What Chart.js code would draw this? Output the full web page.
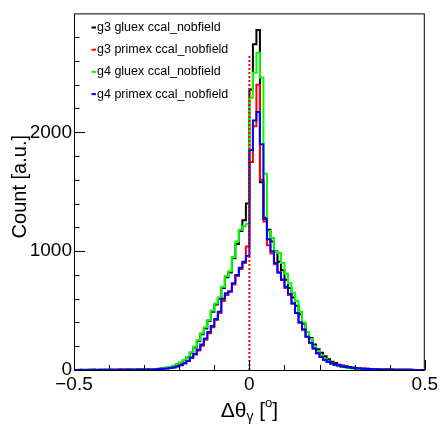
<!DOCTYPE html>
<html>
<head>
<meta charset="utf-8">
<script src="https://cdn.jsdelivr.net/npm/chart.js@4/dist/chart.umd.min.js"></script>
<style>
  html, body { margin: 0; padding: 0; background: #fff; }
  canvas { display: block; }
</style>
</head>
<body>
<canvas id="c" width="441" height="424"></canvas>
<script>
// histogram binning: 100 bins from -0.5 to 0.5
const binStart = -0.5;
const binWidth = 0.01;

// counts per bin (bin [-0.50,-0.49] first)
const g3Gluex = [
  1, 1, 2, 1, 2, 2, 1, 2, 3, 2,
  3, 2, 3, 4, 3, 4, 5, 5, 6, 7,
  5, 6, 7, 9, 11, 15, 19, 25, 34, 46,
  60, 82, 108, 145, 190, 245, 300, 350, 415, 490,
  550, 600, 690, 780, 820, 940, 1060, 1170, 1260, 1400,
  2360, 2740, 2860, 1580, 1280, 1180, 1080, 1000, 910, 840,
  760, 690, 610, 540, 470, 390, 320, 270, 215, 175,
  145, 115, 90, 70, 58, 45, 38, 32, 25, 20,
  16, 13, 11, 9, 8, 7, 6, 5, 5, 4,
  4, 3, 3, 2, 2, 2, 2, 1, 1, 1
];
const g3Primex = [
  1, 2, 1, 1, 2, 1, 3, 2, 1, 2,
  2, 3, 2, 4, 3, 8, 4, 3, 5, 4,
  4, 5, 6, 7, 9, 12, 14, 18, 24, 32,
  42, 58, 75, 100, 130, 165, 205, 255, 310, 360,
  420, 480, 580, 630, 660, 720, 790, 850, 900, 1040,
  1750, 2050, 2400, 1600, 1250, 1050, 980, 890, 820, 760,
  690, 630, 560, 480, 400, 340, 280, 230, 180, 140,
  112, 88, 70, 56, 46, 38, 31, 25, 21, 17,
  14, 12, 10, 12, 8, 7, 6, 5, 5, 4,
  4, 3, 3, 2, 2, 2, 1, 1, 1, 1
];
const g4Gluex = [
  1, 1, 1, 2, 1, 2, 2, 2, 1, 2,
  2, 3, 2, 3, 3, 4, 4, 5, 5, 6,
  4, 5, 6, 8, 11, 14, 18, 26, 35, 48,
  62, 85, 110, 150, 195, 250, 310, 360, 420, 500,
  560, 610, 700, 790, 830, 950, 1080, 1180, 1210, 1230,
  2290, 2500, 2670, 2460, 1650, 1170, 1110, 1000, 985, 900,
  810, 730, 650, 580, 490, 400, 320, 260, 200, 160,
  125, 95, 72, 55, 42, 33, 26, 20, 16, 13,
  10, 9, 8, 7, 6, 5, 4, 4, 3, 3,
  3, 2, 2, 2, 2, 1, 1, 1, 1, 1
];
const g4Primex = [
  1, 1, 1, 1, 1, 2, 1, 1, 2, 1,
  2, 2, 2, 3, 2, 3, 3, 3, 4, 4,
  3, 4, 5, 6, 8, 10, 13, 17, 22, 30,
  40, 55, 75, 105, 135, 170, 215, 265, 320, 370,
  430, 490, 600, 645, 660, 730, 800, 860, 910, 960,
  1850, 2100, 2170, 1900, 1270, 1100, 1000, 900, 820, 760,
  700, 640, 560, 480, 400, 340, 280, 230, 180, 140,
  110, 85, 70, 55, 45, 38, 30, 25, 20, 17,
  14, 12, 10, 9, 8, 7, 6, 5, 4, 4,
  3, 3, 2, 2, 2, 2, 1, 1, 1, 1
];

const seriesNames = ['g3 gluex ccal_nobfield', 'g3 primex ccal_nobfield', 'g4 gluex ccal_nobfield', 'g4 primex ccal_nobfield'];
const seriesColors = ['#000000', '#ff0000', '#00ff00', '#0000ff'];

// red dotted marker at 0
const zeroLineX = [0, 0];
const zeroLineY = [0, 2650];

const xTicksMajor = [-0.5, 0, 0.5];
const yTicksMajor = [0, 1000, 2000];

function toSteps(counts) {
  let pts = counts.map((v, i) => ({ x: binStart + i * binWidth, y: v }));
  pts.push({ x: binStart + counts.length * binWidth, y: counts[counts.length - 1] });
  return pts;
}

function histSet(label, counts, color, order) {
  return {
    label: label,
    data: toSteps(counts),
    borderColor: color,
    borderWidth: 2,
    pointRadius: 0,
    stepped: true,
    fill: false,
    order: order
  };
}

const font = 'Liberation Sans, Arial, sans-serif';

// frame, inward ticks, legend and axis titles drawn on top
const rootStyle = {
  id: 'rootStyle',
  afterDatasetsDraw(chart) {
    const ctx = chart.ctx;
    const a = chart.chartArea;
    const xs = chart.scales.x, ys = chart.scales.y;
    ctx.save();
    ctx.strokeStyle = '#000';
    ctx.lineWidth = 1;
    ctx.strokeRect(a.left + 0.5, a.top + 0.5, a.right - a.left - 1, a.bottom - a.top);

    ctx.beginPath();
    for (let v = -0.5; v <= 0.5001; v += 0.1) {
      let px = Math.round(xs.getPixelForValue(v)) + 0.5;
      let major = xTicksMajor.some(t => Math.abs(t - v) < 1e-6);
      ctx.moveTo(px, a.bottom);
      ctx.lineTo(px, a.bottom - (major ? 10 : 5));
    }
    for (let v = 0; v <= 2800; v += 200) {
      let py = Math.round(ys.getPixelForValue(v)) + 0.5;
      let major = yTicksMajor.includes(v);
      ctx.moveTo(a.left, py);
      ctx.lineTo(a.left + (major ? 11 : 5.5), py);
    }
    ctx.stroke();

    // legend
    ctx.font = '12.5px ' + font;
    ctx.textBaseline = 'middle';
    ctx.textAlign = 'left';
    seriesNames.forEach((name, i) => {
      let y = 27.5 + i * 22.2;
      ctx.fillStyle = seriesColors[i];
      ctx.fillRect(91.5, y - 1, 4.5, 2);
      ctx.fillStyle = '#000';
      ctx.fillText(name, 97, y);
    });

    // y title
    ctx.save();
    ctx.font = '20px ' + font;
    ctx.translate(26, 135);
    ctx.rotate(-Math.PI / 2);
    ctx.textAlign = 'right';
    ctx.textBaseline = 'alphabetic';
    ctx.fillText('Count [a.u.]', 0, 0);
    ctx.restore();

    // x title with sub/superscript
    const parts = [
      { t: '\u0394\u03b8', s: 21, dy: 0 },
      { t: '\u03b3', s: 14, dy: 4 },
      { t: ' [', s: 21, dy: 0 },
      { t: 'o', s: 13, dy: -10 },
      { t: ']', s: 21, dy: 0 }
    ];
    ctx.textAlign = 'left';
    ctx.textBaseline = 'alphabetic';
    let total = 0;
    parts.forEach(p => { ctx.font = p.s + 'px ' + font; p.w = ctx.measureText(p.t).width; total += p.w; });
    let x = (a.left + a.right) / 2 - total / 2;
    parts.forEach(p => {
      ctx.font = p.s + 'px ' + font;
      ctx.fillText(p.t, x, 417 + p.dy);
      x += p.w;
    });
    ctx.restore();
  }
};

new Chart(document.getElementById('c'), {
  type: 'line',
  data: {
    datasets: [
      {
        label: 'zero',
        data: zeroLineX.map((x, i) => ({ x: x, y: zeroLineY[i] })),
        borderColor: '#ff0000',
        borderWidth: 2,
        borderDash: [2, 2],
        pointRadius: 0,
        order: 0
      },
      histSet(seriesNames[0], g3Gluex, seriesColors[0], 4),
      histSet(seriesNames[1], g3Primex, seriesColors[1], 3),
      histSet(seriesNames[2], g4Gluex, seriesColors[2], 2),
      histSet(seriesNames[3], g4Primex, seriesColors[3], 1)
    ]
  },
  options: {
    responsive: false,
    animation: false,
    devicePixelRatio: 1,
    layout: { padding: { top: 7, right: 16, left: 0, bottom: 0 } },
    plugins: { legend: { display: false }, tooltip: { enabled: false } },
    scales: {
      x: {
        type: 'linear',
        min: -0.5,
        max: 0.5,
        grid: { display: false, drawTicks: false },
        border: { display: false },
        afterFit: function(scale) { scale.height = 54; },
        ticks: {
          stepSize: 0.5,
          padding: 3,
          maxRotation: 0,
          color: '#000',
          font: { family: font, size: 19 },
          callback: v => (v < 0 ? '\u2212' + Math.abs(v) : String(v))
        }
      },
      y: {
        min: 0,
        max: 3000,
        grid: { display: false, drawTicks: false },
        border: { display: false },
        afterFit: function(scale) { scale.width = 74; },
        ticks: {
          stepSize: 1000,
          padding: 2,
          color: '#000',
          font: { family: font, size: 19 },
          callback: v => (v >= 3000 ? '' : String(v))
        }
      }
    }
  },
  plugins: [rootStyle]
});
</script>
</body>
</html>
